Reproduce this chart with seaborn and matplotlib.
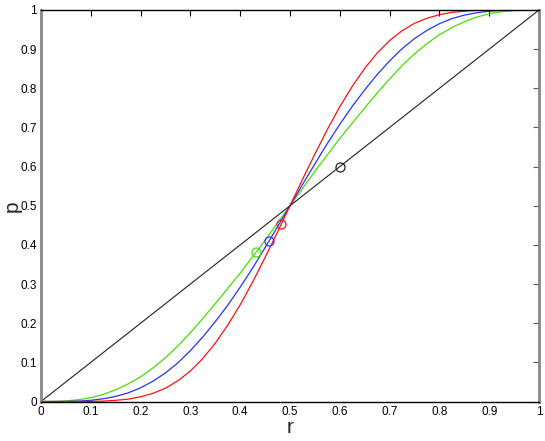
import matplotlib
matplotlib.use("Agg")
import matplotlib.pyplot as plt
import seaborn as sns
import pandas as pd

# ---- data (r in steps of 0.025) ----
r_vals = [0.0, 0.025, 0.05, 0.075, 0.10, 0.125, 0.15, 0.175, 0.20, 0.225,
          0.25, 0.275, 0.30, 0.325, 0.35, 0.375, 0.40, 0.425, 0.45, 0.475,
          0.50, 0.525, 0.55, 0.575, 0.60, 0.625, 0.65, 0.675, 0.70, 0.725,
          0.75, 0.775, 0.80, 0.825, 0.85, 0.875, 0.90, 0.925, 0.95, 0.975, 1.0]
p_green = [0.0, 0.0002, 0.0015, 0.0045, 0.0095, 0.018, 0.030, 0.045, 0.063, 0.086,
           0.112, 0.142, 0.176, 0.212, 0.250, 0.289, 0.328, 0.370, 0.412, 0.456,
           0.500, 0.544, 0.588, 0.630, 0.672, 0.711, 0.750, 0.788, 0.824, 0.858,
           0.888, 0.914, 0.937, 0.955, 0.970, 0.982, 0.9905, 0.9955, 0.9985, 0.9998, 1.0]
p_blue = [0.0, 0.0, 0.0002, 0.001, 0.003, 0.007, 0.013, 0.022, 0.035, 0.052,
          0.073, 0.099, 0.130, 0.165, 0.204, 0.246, 0.292, 0.341, 0.393, 0.446,
          0.500, 0.554, 0.607, 0.659, 0.708, 0.754, 0.796, 0.835, 0.870, 0.901,
          0.927, 0.948, 0.965, 0.978, 0.987, 0.993, 0.997, 0.999, 0.9998, 1.0, 1.0]
p_red = [0.0, 0.0, 0.0, 0.0001, 0.0003, 0.001, 0.003, 0.006, 0.012, 0.021,
         0.034, 0.053, 0.078, 0.110, 0.149, 0.195, 0.247, 0.305, 0.368, 0.433,
         0.500, 0.567, 0.632, 0.695, 0.753, 0.805, 0.851, 0.890, 0.922, 0.947,
         0.966, 0.979, 0.988, 0.994, 0.997, 0.999, 0.9997, 0.9999, 1.0, 1.0, 1.0]
diag_r = [0.0, 1.0]
diag_p = [0.0, 1.0]
marker_r = [0.432, 0.458, 0.482, 0.600]
marker_p = [0.383, 0.410, 0.454, 0.600]
marker_series = ["green", "blue", "red", "black"]

tick_vals = [0, 0.1, 0.2, 0.3, 0.4, 0.5, 0.6, 0.7, 0.8, 0.9, 1]
tick_labels = ["0", "0.1", "0.2", "0.3", "0.4", "0.5", "0.6", "0.7", "0.8", "0.9", "1"]

colors = {"green": "#44e000", "blue": "#2035ff", "red": "#ff1010", "black": "#202020"}

sns.set_style("white")
plt.rcParams["font.family"] = ["Liberation Sans", "DejaVu Sans"]

fig = plt.figure(figsize=(5.45, 4.41), dpi=100)
ax = fig.add_axes([41 / 545, 39.5 / 441, 498 / 545, 391.5 / 441])

df = pd.DataFrame({
    "r": r_vals * 3,
    "p": p_green + p_blue + p_red,
    "s": ["green"] * len(r_vals) + ["blue"] * len(r_vals) + ["red"] * len(r_vals),
})
sns.lineplot(data=df, x="r", y="p", hue="s", palette=colors, ax=ax,
             linewidth=0.9, legend=False, sort=False, estimator=None)
sns.lineplot(x=diag_r, y=diag_p, color=colors["black"], linewidth=0.8, ax=ax,
             legend=False)

mdf = pd.DataFrame({"r": marker_r, "p": marker_p, "s": marker_series})
for _, row in mdf.iterrows():
    ax.plot(row["r"], row["p"], marker="o", markersize=6.5, markerfacecolor="none",
            markeredgecolor=colors[row["s"]], markeredgewidth=0.9, linestyle="none",
            zorder=5)

ax.set_xlim(0, 1)
ax.set_ylim(0, 1)
ax.set_xticks(tick_vals)
ax.set_xticklabels(tick_labels)
ax.set_yticks(tick_vals)
ax.set_yticklabels(tick_labels)
ax.tick_params(direction="in", length=4, width=0.8, labelsize=8.5,
               top=True, right=True, pad=3, colors="#555555", labelcolor="black")
ax.tick_params(axis="x", colors="black", labelcolor="black")

for side in ["left", "right"]:
    ax.spines[side].set_color("#888888")
    ax.spines[side].set_linewidth(2.0)
for side in ["top", "bottom"]:
    ax.spines[side].set_color("black")
    ax.spines[side].set_linewidth(1.0)

ax.set_xlabel("r", fontsize=15, labelpad=0)
ax.set_ylabel("p", fontsize=15, labelpad=-1)

fig.savefig("out.png", dpi=100)
